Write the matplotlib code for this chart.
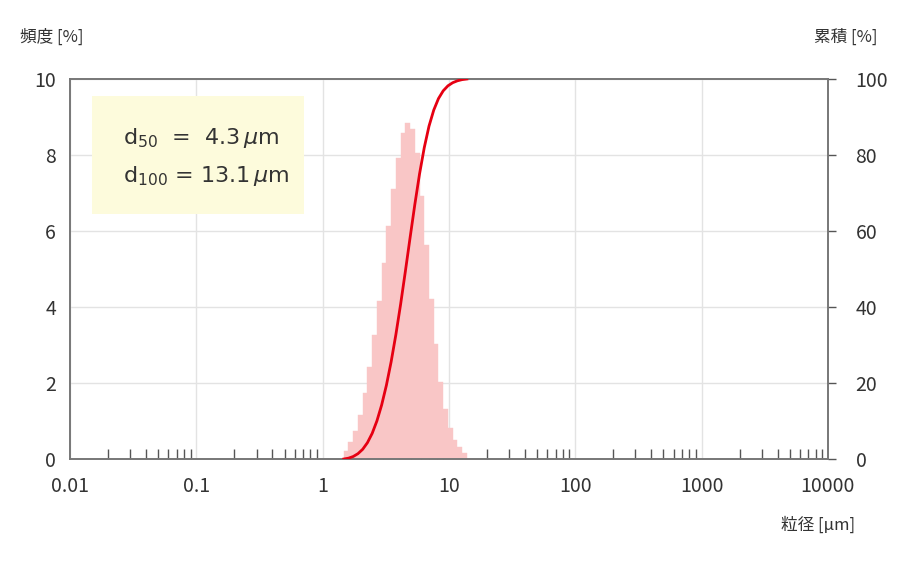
import numpy as np
import matplotlib
matplotlib.use("Agg")
import matplotlib.pyplot as plt
from matplotlib.patches import Rectangle
from matplotlib.ticker import FixedLocator, NullFormatter

plt.rcParams['font.family'] = ['Noto Sans CJK JP', 'DejaVu Sans']

bin_start = 1.47
bin_ratio_log = 0.0375
freq = [0.22, 0.44, 0.74, 1.15, 1.73, 2.43, 3.26, 4.17, 5.15, 6.14, 7.11, 7.93, 8.59,
        8.85, 8.68, 8.04, 6.91, 5.62, 4.20, 3.02, 2.03, 1.31, 0.81, 0.50, 0.31, 0.16]
x_ticks = [0.01, 0.1, 1, 10, 100, 1000, 10000]
x_labels = ['0.01', '0.1', '1', '10', '100', '1000', '10000']

freq = np.array(freq)
edges = bin_start * 10 ** (bin_ratio_log * np.arange(len(freq) + 1))
cum = np.concatenate([[0], np.cumsum(freq)])
cum = cum / cum[-1] * 100

fig = plt.figure(figsize=(9, 5.7), dpi=100)
ax = fig.add_axes([0.0778, 0.1947, 0.842, 0.6667])
ax.set_xscale('log')
ax.set_xlim(0.01, 10000)
ax.set_ylim(0, 10)
ax.bar(edges[:-1], freq, width=np.diff(edges), align='edge', color='#f9c6c6', edgecolor='#f9c6c6', linewidth=0.3, zorder=2)
ax.grid(True, which='major', color='#e3e3e3', linewidth=1, zorder=0)
ax.set_axisbelow(True)
ax.xaxis.set_major_locator(FixedLocator(x_ticks))
ax.set_xticklabels(x_labels)
minors = [m * 10.0 ** e for e in range(-2, 4) for m in range(2, 10)]
ax.xaxis.set_minor_locator(FixedLocator(minors))
ax.xaxis.set_minor_formatter(NullFormatter())
ax.tick_params(axis='x', which='major', length=0, labelsize=14, colors='#333333', pad=12)
ax.tick_params(axis='x', which='minor', direction='in', length=7, width=1, color='#555555')
ax.set_yticks([0, 2, 4, 6, 8, 10])
ax.tick_params(axis='y', length=0, labelsize=14, colors='#333333', pad=10)
for s in ax.spines.values():
    s.set_color('#777777')
    s.set_linewidth(1.2)

ax2 = ax.twinx()
ax2.set_ylim(0, 100)
ax2.plot(edges, cum, color='#e60012', linewidth=2, zorder=3)
ax2.set_yticks([0, 20, 40, 60, 80, 100])
ax2.tick_params(axis='y', direction='out', length=6, width=1, color='#555555', labelsize=14, labelcolor='#333333', pad=14)
for s in ax2.spines.values():
    s.set_color('#777777')
    s.set_linewidth(1.2)

ax.add_patch(Rectangle((0.029, 0.645), 0.28, 0.31, transform=ax.transAxes, facecolor='#fdfbdc', edgecolor='none', zorder=4))
ax.text(0.07, 0.845, r'd$_{50}$  =  4.3$\,\mu$m', transform=ax.transAxes, fontsize=16, color='#333333', va='center', zorder=5, family='DejaVu Sans')
ax.text(0.07, 0.745, r'd$_{100}$ = 13.1$\,\mu$m', transform=ax.transAxes, fontsize=16, color='#333333', va='center', zorder=5, family='DejaVu Sans')

fig.text(0.022, 0.935, '頻度 [%]', fontsize=12, color='#333333', va='center')
fig.text(0.975, 0.935, '累積 [%]', fontsize=12, color='#333333', va='center', ha='right')
fig.text(0.95, 0.078, '粒径 [µm]', fontsize=12, color='#333333', va='center', ha='right')

fig.savefig('out.png', dpi=100)
